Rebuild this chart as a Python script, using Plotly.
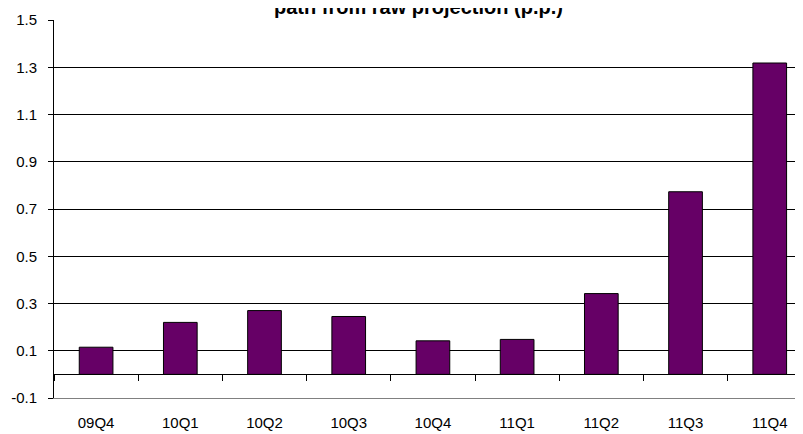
import plotly.graph_objects as go

categories = ["09Q4", "10Q1", "10Q2", "10Q3", "10Q4", "11Q1", "11Q2", "11Q3", "11Q4"]
values = [0.115, 0.22, 0.27, 0.245, 0.142, 0.148, 0.342, 0.773, 1.318]
y_ticks = [-0.1, 0.1, 0.3, 0.5, 0.7, 0.9, 1.1, 1.3, 1.5]
y_tick_labels = ["-0.1", "0.1", "0.3", "0.5", "0.7", "0.9", "1.1", "1.3", "1.5"]
title_text = "path from raw projection (p.p.)"

FONT = "Liberation Sans, Arial, sans-serif"
y_range = [-0.1, 1.5]
x_range = [-0.5, 8.49]

# the page body has an 8px default margin, so the figure is laid out 8px up/left
fig = go.Figure()
fig.add_trace(go.Bar(
    x=categories, y=values, width=0.4,
    marker=dict(color="#660066", line=dict(color="#000000", width=1)),
    hoverinfo="skip", showlegend=False,
))
# invisible trace so the zero-level category axis has its categories
fig.add_trace(go.Scatter(
    x=categories, y=values, xaxis="x2", mode="markers",
    marker=dict(opacity=0), hoverinfo="skip", showlegend=False,
))

zero_pos = (0 - y_range[0]) / (y_range[1] - y_range[0])

fig.update_layout(
    width=803, height=434,
    margin=dict(l=46, r=0, t=12, b=44, autoexpand=False),
    paper_bgcolor="white", plot_bgcolor="white",
    font=dict(family=FONT, size=15, color="#000000"),
    annotations=[dict(
        text="<b>" + title_text + "</b>", xref="paper", yref="paper",
        x=(410 - 46) / 757, xanchor="center", y=1 + 13 / 378, yanchor="middle",
        showarrow=False, font=dict(family=FONT, size=20, color="#000000"),
    )],
    xaxis=dict(
        type="category", range=x_range, showgrid=False, zeroline=False,
        showline=True, linecolor="#808080", linewidth=1,
        ticks="outside", ticklen=11, tickcolor="rgba(0,0,0,0)",
        tickfont=dict(family=FONT, size=15), automargin=False,
    ),
    xaxis2=dict(
        type="category", range=x_range, overlaying="x", anchor="free",
        position=zero_pos, side="bottom", showgrid=False, zeroline=False,
        showline=True, linecolor="#000000", linewidth=1,
        ticks="outside", tickson="boundaries", ticklen=6, tickcolor="#000000",
        showticklabels=False, automargin=False,
    ),
    yaxis=dict(
        range=y_range, tickmode="array", tickvals=y_ticks, ticktext=y_tick_labels,
        showgrid=True, gridcolor="#000000", gridwidth=1, zeroline=False,
        showline=True, linecolor="#000000", linewidth=1,
        ticks="outside", ticklen=5, tickcolor="#000000",
        ticklabelstandoff=8, automargin=False,
        tickfont=dict(family=FONT, size=15),
    ),
)

fig.write_html("out.html")
